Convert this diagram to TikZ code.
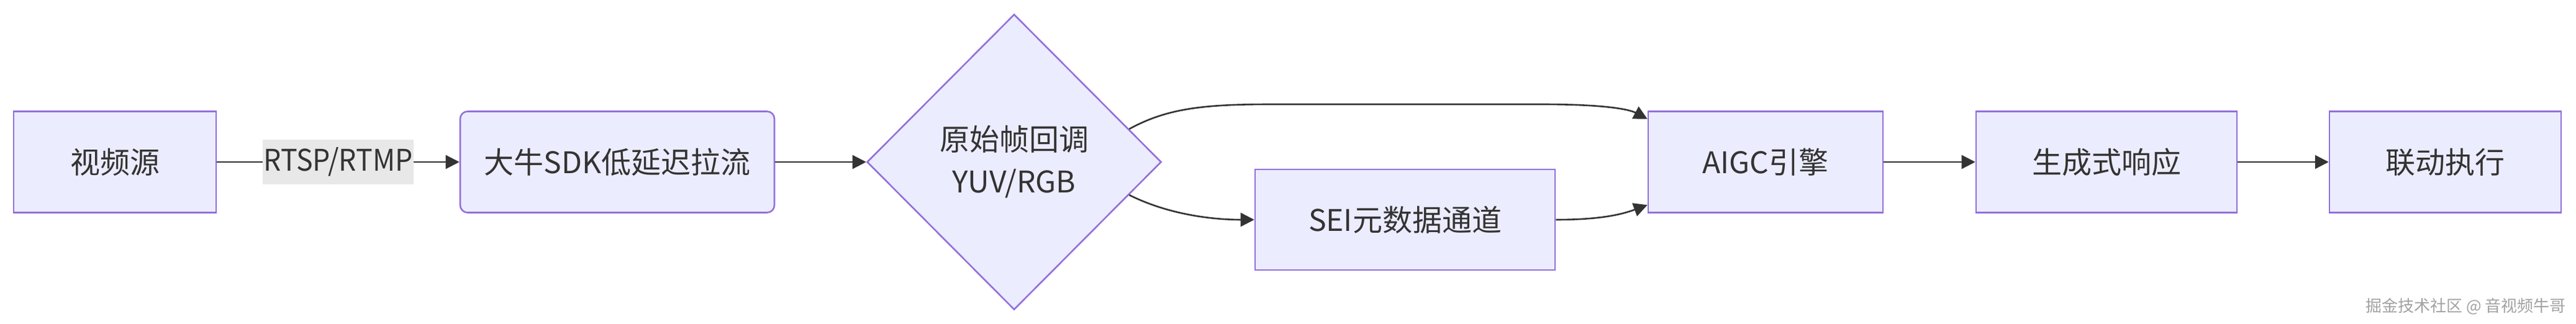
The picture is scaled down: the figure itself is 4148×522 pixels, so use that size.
\documentclass[tikz,border=0pt]{standalone}
\usepackage{fontspec}
\setmainfont{Noto Sans CJK SC}
\newfontfamily\narrowfont[FakeStretch=0.93]{Noto Sans CJK SC}
\usetikzlibrary{shapes.geometric,arrows.meta,calc}
\definecolor{nodefill}{HTML}{ECECFF}
\definecolor{nodeline}{HTML}{9370DB}
\definecolor{edgecol}{HTML}{333333}
\definecolor{labelbg}{HTML}{E8E8E8}
\definecolor{txtcol}{HTML}{333333}
\definecolor{markcol}{HTML}{A2A2A2}
\begin{document}
\begin{tikzpicture}[x=0.5pt,y=-0.5pt,
  nodefont/.style={font=\fontsize{24pt}{34pt}\selectfont},
  box/.style={draw=nodeline,fill=nodefill,line width=1.3pt,minimum height=81.5pt,
    inner sep=0pt,text=txtcol,nodefont,minimum width=#1},
  rbox/.style={box=#1,rounded corners=6pt},
  decide/.style={shape=diamond,draw=nodeline,fill=nodefill,line width=1.3pt,
    inner sep=0pt,text=txtcol,nodefont,align=center},
  edge/.style={draw=edgecol,line width=1.3pt,-{Triangle[length=11pt,width=11pt]}},
  elabel/.style={fill=labelbg,text=txtcol,font=\narrowfont\fontsize{24pt}{34pt}\selectfont,
    inner xsep=1pt,inner ysep=0pt,minimum height=36pt},
  wmark/.style={text=markcol,font=\fontsize{13pt}{15pt}\selectfont,inner sep=0pt}
]
\fill[white] (0,0) rectangle (4148,522);
\path[use as bounding box] (0,0) rectangle (4148,522);

\node[box=163pt] (src) at (185,261) {视频源};
\node[rbox=253pt] (sdk) at (994,261) {大牛SDK低延迟拉流};
\node[decide,minimum width=237pt,minimum height=238pt] (dia) at (1633,261)
  {原始帧回调\\YUV/RGB};
\node[box=241.5pt,minimum height=81pt] (sei) at (2262.5,354) {SEI元数据通道};
\node[box=189pt] (aigc) at (2843,261) {AIGC引擎};
\node[box=210pt] (gen) at (3392,261) {生成式响应};
\node[box=186.5pt] (act) at (3937.5,261) {联动执行};

\draw[edge] (src.east) -- (sdk.west);
\node[elabel] (lab) at ($(src.east)!0.5!(sdk.west)$) {RTSP/RTMP};
\draw[edge] (sdk.east) -- (dia.west);
\draw[edge] (dia.16) .. controls (1880,174) and (1940,168) .. (2050,168)
  -- (2480,168) .. controls (2590,168) and (2625,177) .. (aigc.160);
\draw[edge] (dia.-16) .. controls (1880,345) and (1950,354) .. (sei.west);
\draw[edge] (sei.east) .. controls (2575,354) and (2610,346) .. (aigc.200);
\draw[edge] (aigc.east) -- (gen.west);
\draw[edge] (gen.east) -- (act.west);

\node[wmark,anchor=east] (wm) at (4132,494) {掘金技术社区 @ 音视频牛哥};
\end{tikzpicture}
\end{document}
